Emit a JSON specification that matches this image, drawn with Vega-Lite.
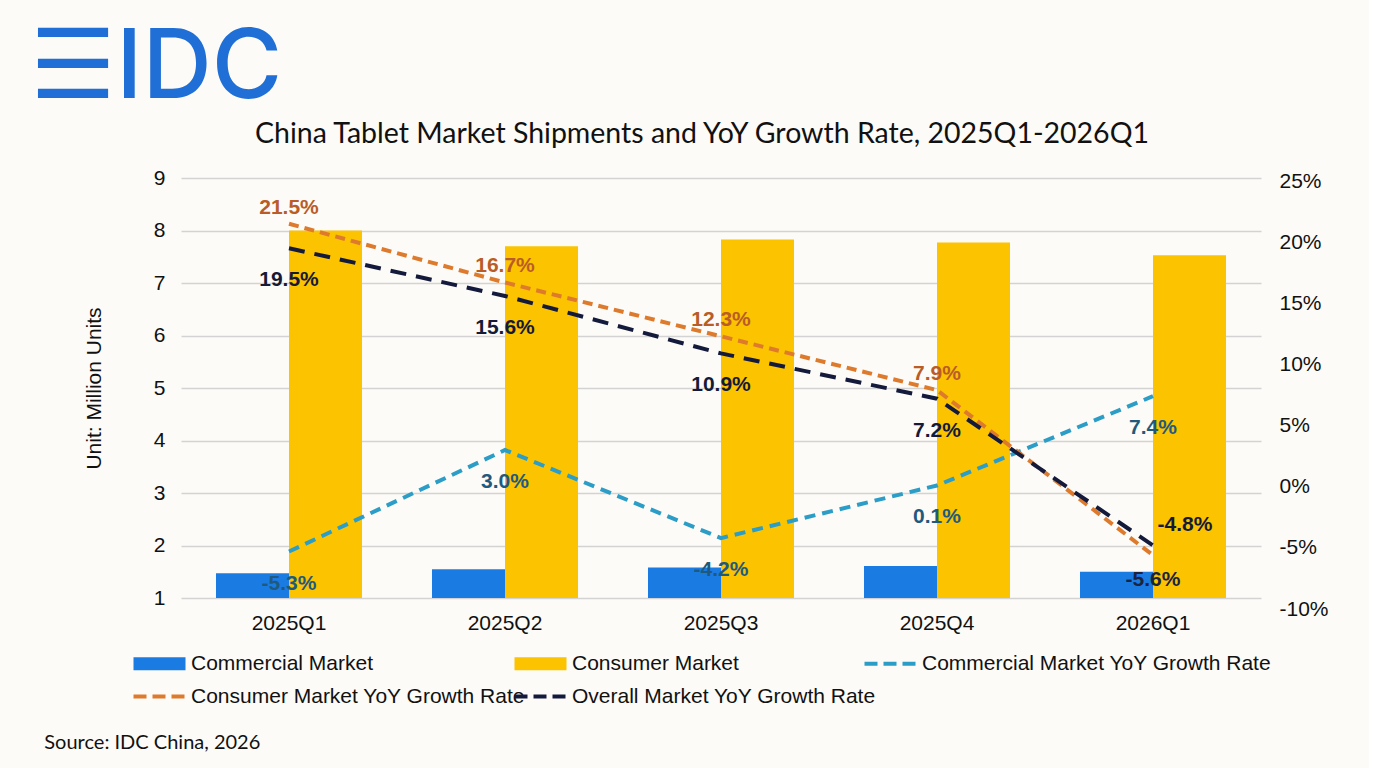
{
  "$schema": "https://vega.github.io/schema/vega-lite/v6.json",
  "background": "#FCFBF7",
  "padding": {"left": 30, "top": 20, "right": 40, "bottom": 30},
  "datasets": {
    "shipments": [
      {"quarter": "2025Q1", "series": "Commercial Market", "units": 1.47},
      {"quarter": "2025Q1", "series": "Consumer Market", "units": 8.0},
      {"quarter": "2025Q2", "series": "Commercial Market", "units": 1.55},
      {"quarter": "2025Q2", "series": "Consumer Market", "units": 7.7},
      {"quarter": "2025Q3", "series": "Commercial Market", "units": 1.58},
      {"quarter": "2025Q3", "series": "Consumer Market", "units": 7.83},
      {"quarter": "2025Q4", "series": "Commercial Market", "units": 1.61},
      {"quarter": "2025Q4", "series": "Consumer Market", "units": 7.77},
      {"quarter": "2026Q1", "series": "Commercial Market", "units": 1.5},
      {"quarter": "2026Q1", "series": "Consumer Market", "units": 7.53}
    ],
    "growth": [
      {"quarter": "2025Q1", "series": "Commercial Market YoY Growth Rate", "yoy": -0.053},
      {"quarter": "2025Q2", "series": "Commercial Market YoY Growth Rate", "yoy": 0.030},
      {"quarter": "2025Q3", "series": "Commercial Market YoY Growth Rate", "yoy": -0.042},
      {"quarter": "2025Q4", "series": "Commercial Market YoY Growth Rate", "yoy": 0.001},
      {"quarter": "2026Q1", "series": "Commercial Market YoY Growth Rate", "yoy": 0.074},
      {"quarter": "2025Q1", "series": "Consumer Market YoY Growth Rate", "yoy": 0.215},
      {"quarter": "2025Q2", "series": "Consumer Market YoY Growth Rate", "yoy": 0.167},
      {"quarter": "2025Q3", "series": "Consumer Market YoY Growth Rate", "yoy": 0.123},
      {"quarter": "2025Q4", "series": "Consumer Market YoY Growth Rate", "yoy": 0.079},
      {"quarter": "2026Q1", "series": "Consumer Market YoY Growth Rate", "yoy": -0.056},
      {"quarter": "2025Q1", "series": "Overall Market YoY Growth Rate", "yoy": 0.195},
      {"quarter": "2025Q2", "series": "Overall Market YoY Growth Rate", "yoy": 0.156},
      {"quarter": "2025Q3", "series": "Overall Market YoY Growth Rate", "yoy": 0.109},
      {"quarter": "2025Q4", "series": "Overall Market YoY Growth Rate", "yoy": 0.072},
      {"quarter": "2026Q1", "series": "Overall Market YoY Growth Rate", "yoy": -0.048}
    ]
  },
  "title": {
    "text": "Source: IDC China, 2026",
    "orient": "bottom",
    "anchor": "start",
    "font": "Lato",
    "fontSize": 20,
    "fontWeight": "normal",
    "color": "#111111",
    "dx": 14,
    "offset": 26
  },
  "vconcat": [
    {
      "title": {
        "text": "☰IDC",
        "anchor": "start",
        "font": "Inter",
        "fontSize": 96,
        "fontWeight": 500,
        "color": "#1F6FD6",
        "dx": -53,
        "offset": 2
      },
      "vconcat": [
        {
          "title": {
            "text": "China Tablet Market Shipments and YoY Growth Rate, 2025Q1-2026Q1",
            "font": "Lato",
            "fontSize": 28.5,
            "fontWeight": "normal",
            "color": "#111111",
            "dx": -19,
            "offset": 19
          },
          "width": 1080,
          "height": 420,
          "layer": [
            {
              "data": {"name": "shipments"},
              "mark": {"type": "bar"},
              "encoding": {
                "x": {
                  "field": "quarter",
                  "type": "nominal",
                  "scale": {"paddingInner": 0.324, "paddingOuter": 0.162},
                  "axis": {"title": null, "labelAngle": 0, "labelPadding": 14}
                },
                "xOffset": {
                  "field": "series",
                  "type": "nominal",
                  "sort": ["Commercial Market", "Consumer Market"],
                  "scale": {"paddingInner": 0, "paddingOuter": 0}
                },
                "y": {
                  "field": "units",
                  "type": "quantitative",
                  "scale": {"domain": [1, 9], "nice": false, "zero": false},
                  "axis": {
                    "orient": "left",
                    "values": [1, 2, 3, 4, 5, 6, 7, 8, 9],
                    "title": "Unit: Million Units",
                    "titlePadding": 49,
                    "labelPadding": 16,
                    "grid": true
                  }
                },
                "y2": {"datum": 1},
                "color": {
                  "field": "series",
                  "type": "nominal",
                  "scale": {
                    "domain": [
                      "Commercial Market",
                      "Consumer Market",
                      "Commercial Market YoY Growth Rate",
                      "Consumer Market YoY Growth Rate",
                      "Overall Market YoY Growth Rate"
                    ],
                    "range": ["#1A7CE3", "#FBC300", "#2B9DC6", "#DE7A2C", "#141A3C"]
                  },
                  "legend": {
                    "title": null,
                    "orient": "none",
                    "legendX": -32,
                    "legendY": 475,
                    "direction": "horizontal",
                    "columns": 3,
                    "columnPadding": -20,
                    "rowPadding": 11,
                    "symbolSize": 2704,
                    "labelOffset": 21,
                    "labelLimit": 500,
                    "labelFont": "Liberation Sans",
                    "labelFontSize": 21,
                    "labelColor": "#111111",
                    "encode": {
                      "symbols": {
                        "update": {
                          "shape": {"signal": "indexof(['Commercial Market','Consumer Market'], datum.value) >= 0 ? 'M-1,-0.25H1V0.25H-1Z' : 'M-1,0H1'"},
                          "fill": {"signal": "datum.value === 'Commercial Market' ? '#1A7CE3' : datum.value === 'Consumer Market' ? '#FBC300' : 'transparent'"},
                          "stroke": {"signal": "datum.value === 'Commercial Market YoY Growth Rate' ? '#2B9DC6' : datum.value === 'Consumer Market YoY Growth Rate' ? '#DE7A2C' : datum.value === 'Overall Market YoY Growth Rate' ? '#141A3C' : 'transparent'"},
                          "strokeWidth": {"signal": "indexof(['Commercial Market','Consumer Market'], datum.value) >= 0 ? 0 : 4"},
                          "strokeDash": {"signal": "[13, 6]"},
                          "opacity": {"value": 1}
                        }
                      }
                    }
                  }
                }
              }
            },
            {
              "data": {"name": "growth"},
              "encoding": {
                "x": {"field": "quarter", "type": "nominal"},
                "y": {
                  "field": "yoy",
                  "type": "quantitative",
                  "scale": {"domain": [-0.1, 0.25], "range": [431, 3], "nice": false, "zero": false},
                  "axis": {
                    "orient": "right",
                    "values": [-0.1, -0.05, 0, 0.05, 0.1, 0.15, 0.2, 0.25],
                    "format": ".0%",
                    "title": null,
                    "grid": false,
                    "labelPadding": 18
                  }
                }
              },
              "layer": [
                {
                  "transform": [{"filter": "datum.series === 'Commercial Market YoY Growth Rate'"}],
                  "mark": {"type": "line", "strokeWidth": 4, "strokeDash": [11, 7]},
                  "encoding": {
                    "color": {
                      "field": "series",
                      "type": "nominal",
                      "scale": {
                        "domain": [
                          "Commercial Market",
                          "Consumer Market",
                          "Commercial Market YoY Growth Rate",
                          "Consumer Market YoY Growth Rate",
                          "Overall Market YoY Growth Rate"
                        ],
                        "range": ["#1A7CE3", "#FBC300", "#2B9DC6", "#DE7A2C", "#141A3C"]
                      }
                    }
                  }
                },
                {
                  "transform": [{"filter": "datum.series === 'Consumer Market YoY Growth Rate'"}],
                  "mark": {"type": "line", "strokeWidth": 4, "strokeDash": [10, 6]},
                  "encoding": {"color": {"field": "series", "type": "nominal"}}
                },
                {
                  "transform": [{"filter": "datum.series === 'Overall Market YoY Growth Rate'"}],
                  "mark": {"type": "line", "strokeWidth": 4, "strokeDash": [16, 10]},
                  "encoding": {"color": {"field": "series", "type": "nominal"}}
                },
                {
                  "transform": [{"filter": "datum.series === 'Commercial Market YoY Growth Rate'"}],
                  "mark": {"type": "text", "font": "Liberation Sans", "fontSize": 21, "fontWeight": "bold", "dy": 32, "color": "#1F5A7E"},
                  "encoding": {"text": {"field": "yoy", "type": "quantitative", "format": ".1%"}}
                },
                {
                  "transform": [{"filter": "datum.series === 'Consumer Market YoY Growth Rate' && datum.quarter !== '2026Q1'"}],
                  "mark": {"type": "text", "font": "Liberation Sans", "fontSize": 21, "fontWeight": "bold", "dy": -16, "color": "#BA5C27"},
                  "encoding": {"text": {"field": "yoy", "type": "quantitative", "format": ".1%"}}
                },
                {
                  "transform": [{"filter": "datum.series === 'Consumer Market YoY Growth Rate' && datum.quarter === '2026Q1'"}],
                  "mark": {"type": "text", "font": "Liberation Sans", "fontSize": 21, "fontWeight": "bold", "dy": 25, "color": "#1B2340"},
                  "encoding": {"text": {"field": "yoy", "type": "quantitative", "format": ".1%"}}
                },
                {
                  "transform": [{"filter": "datum.series === 'Overall Market YoY Growth Rate' && datum.quarter !== '2026Q1'"}],
                  "mark": {"type": "text", "font": "Liberation Sans", "fontSize": 21, "fontWeight": "bold", "dy": 32, "color": "#151A38"},
                  "encoding": {"text": {"field": "yoy", "type": "quantitative", "format": ".1%"}}
                },
                {
                  "transform": [{"filter": "datum.series === 'Overall Market YoY Growth Rate' && datum.quarter === '2026Q1'"}],
                  "mark": {"type": "text", "font": "Liberation Sans", "fontSize": 21, "fontWeight": "bold", "dx": 32, "dy": -20, "color": "#151A38"},
                  "encoding": {"text": {"field": "yoy", "type": "quantitative", "format": ".1%"}}
                }
              ]
            }
          ],
          "resolve": {"scale": {"y": "independent"}, "axis": {"y": "independent"}}
        }
      ]
    }
  ],
  "config": {
    "locale": {
      "number": {"decimal": ".", "thousands": ",", "grouping": [3], "currency": ["$", ""], "minus": "-"}
    },
    "view": {"stroke": null},
    "axis": {
      "labelFont": "Liberation Sans",
      "labelFontSize": 21,
      "labelColor": "#111111",
      "titleFont": "Liberation Sans",
      "titleFontSize": 21,
      "titleFontWeight": "normal",
      "titleColor": "#111111",
      "domain": false,
      "ticks": false,
      "gridColor": "#D3D3D3",
      "gridWidth": 1.5
    }
  }
}
